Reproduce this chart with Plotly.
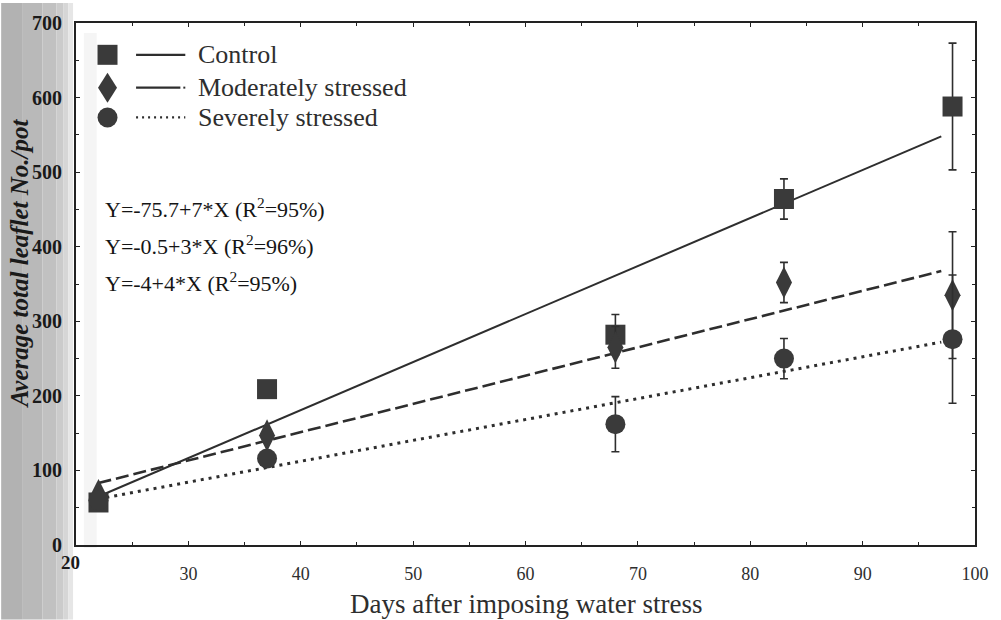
import numpy as np
import plotly.graph_objects as go

# ---- data -------------------------------------------------------------
days = [22, 37, 68, 83, 98]

control = [57, 209, 282, 464, 588]
control_err = [0, 0, 27, 27, 85]

moderate = [67, 147, 265, 352, 335]
moderate_err = [0, 0, 28, 27, 85]

severe = [60, 116, 162, 250, 276]
severe_err = [0, 0, 37, 27, 86]

series_names = ["Control", "Moderately stressed", "Severely stressed"]
equations = [
    "Y=-75.7+7*X (R<sup>2</sup>=95%)",
    "Y=-0.5+3*X (R<sup>2</sup>=96%)",
    "Y=-4+4*X (R<sup>2</sup>=95%)",
]
fit_span = [22, 97]

x_ticks = [30, 40, 50, 60, 70, 80, 90, 100]
y_ticks = [0, 100, 200, 300, 400, 500, 600, 700]

# ---- layout geometry (pixels) ----------------------------------------
W, H = 1001, 620
ML, MR, MT, MB = 76, 12, 20, 75
PW, PH = W - ML - MR, H - MT - MB


def px(x):
    return (x - ML) / PW


def py(y):
    return (H - MB - y) / PH


INK = "#2e2e2e"
MARK = "#3a3a3a"
SERIF = "Liberation Serif"

fig = go.Figure()

styles = [
    dict(symbol="square", size=20, dash="solid", width=2),
    dict(symbol="diamond-tall", size=23, dash="13px,5px", width=2.6),
    dict(symbol="circle", size=20, dash="3px,5px", width=3),
]
values = [control, moderate, severe]
errors = [control_err, moderate_err, severe_err]

# regression lines through each treatment
xs = np.array(days, dtype=float)
span = np.array(fit_span, dtype=float)
for name, vals, st in zip(series_names, values, styles):
    slope, icpt = np.polyfit(xs, np.array(vals, dtype=float), 1)
    fig.add_trace(go.Scatter(
        x=span, y=icpt + slope * span, mode="lines",
        line=dict(color=INK, width=st["width"], dash=st["dash"]),
        showlegend=False, hoverinfo="skip",
    ))

# treatment means with error bars
for name, vals, errs, st in zip(series_names, values, errors, styles):
    fig.add_trace(go.Scatter(
        x=days, y=vals, mode="markers", name=name,
        marker=dict(symbol=st["symbol"], size=st["size"], color=MARK,
                    line=dict(width=0)),
        error_y=dict(type="data", array=errs, visible=True,
                     color=INK, thickness=1.6, width=4),
        showlegend=False,
    ))

shapes = []
annotations = []

# scanned page edge on the left
for x0, x1, col in [(0, 22, "#b2b2b2"), (22, 42, "#b9b9b9"),
                    (42, 56, "#c1c1c1"), (56, 63, "#cbcbcb"),
                    (63, 68, "#d6d6d6"), (68, 73, "#e6e6e6")]:
    shapes.append(dict(type="rect", xref="paper", yref="paper",
                       x0=px(x0), x1=px(x1), y0=py(H), y1=py(0),
                       fillcolor=col, line=dict(width=0), layer="below"))
shapes.append(dict(type="rect", xref="paper", yref="paper",
                   x0=px(84), x1=px(97), y0=py(548), y1=py(30),
                   fillcolor="#eeeeee", opacity=0.6,
                   line=dict(width=0), layer="below"))

# legend block
leg_rows = [52, 85, 115]
mx = px(108)
shapes.append(dict(type="rect", xref="paper", yref="paper",
                   xsizemode="pixel", ysizemode="pixel",
                   xanchor=mx, yanchor=py(leg_rows[0]),
                   x0=-10, x1=10, y0=-10, y1=10,
                   fillcolor=MARK, line=dict(width=0)))
shapes.append(dict(type="path", xref="paper", yref="paper",
                   xsizemode="pixel", ysizemode="pixel",
                   xanchor=mx, yanchor=py(leg_rows[1]),
                   path="M 0,15 L 9.5,0 L 0,-15 L -9.5,0 Z",
                   fillcolor=MARK, line=dict(width=0)))
shapes.append(dict(type="circle", xref="paper", yref="paper",
                   xsizemode="pixel", ysizemode="pixel",
                   xanchor=mx, yanchor=py(leg_rows[2]),
                   x0=-10, x1=10, y0=-10, y1=10,
                   fillcolor=MARK, line=dict(width=0)))
# line samples
shapes.append(dict(type="line", xref="paper", yref="paper",
                   x0=px(137), x1=px(187), y0=py(leg_rows[0]), y1=py(leg_rows[0]),
                   line=dict(color=INK, width=2.2)))
shapes.append(dict(type="line", xref="paper", yref="paper",
                   x0=px(137), x1=px(182), y0=py(leg_rows[1]), y1=py(leg_rows[1]),
                   line=dict(color=INK, width=2.2)))
shapes.append(dict(type="line", xref="paper", yref="paper",
                   x0=px(185), x1=px(187), y0=py(leg_rows[1]), y1=py(leg_rows[1]),
                   line=dict(color=INK, width=2)))
shapes.append(dict(type="line", xref="paper", yref="paper",
                   x0=px(137), x1=px(187), y0=py(leg_rows[2]), y1=py(leg_rows[2]),
                   line=dict(color=INK, width=2.2, dash="2px,4px")))
for name, yy in zip(series_names, leg_rows):
    annotations.append(dict(xref="paper", yref="paper", x=px(198), y=py(yy),
                            text=name, showarrow=False, xanchor="left",
                            yanchor="middle",
                            font=dict(family=SERIF, size=26, color=INK)))

# regression equations
for eq, yy in zip(equations, [206, 243, 280]):
    annotations.append(dict(xref="paper", yref="paper", x=px(103), y=py(yy),
                            text=eq, showarrow=False, xanchor="left",
                            yanchor="middle",
                            font=dict(family=SERIF, size=22, color="#151515")))

# axis titles and corner label
annotations.append(dict(xref="paper", yref="paper", x=0.5, y=py(604),
                        text="Days after imposing water stress",
                        showarrow=False, xanchor="center", yanchor="middle",
                        font=dict(family=SERIF, size=27, color=INK)))
annotations.append(dict(xref="paper", yref="paper", x=px(19), y=py(262),
                        text="<b><i>Average total leaflet No./pot</i></b>",
                        textangle=-90, showarrow=False,
                        xanchor="center", yanchor="middle",
                        font=dict(family=SERIF, size=25, color="#1a1a1a")))
annotations.append(dict(xref="paper", yref="paper", x=px(70), y=py(563),
                        text="<b>20</b>", showarrow=False,
                        xanchor="center", yanchor="middle",
                        font=dict(family=SERIF, size=19, color="#1a1a1a")))

fig.update_layout(
    width=W, height=H,
    margin=dict(l=ML, r=MR, t=MT, b=MB),
    paper_bgcolor="white", plot_bgcolor="rgba(0,0,0,0)",
    shapes=shapes, annotations=annotations,
    showlegend=False,
)
fig.update_xaxes(
    range=[20, 100], tickvals=x_ticks, ticktext=[str(t) for t in x_ticks],
    showgrid=False, zeroline=False,
    showline=True, linecolor="#222222", linewidth=2, mirror="ticks",
    ticks="inside", ticklen=4, tickcolor="#222222",
    minor=dict(ticks="inside", dtick=5, ticklen=3, tickcolor="#222222"),
    tickfont=dict(family=SERIF, size=18, color=INK),
    ticklabelstandoff=11, ticklabeloverflow="allow",
)
fig.update_yaxes(
    range=[0, 700], tickvals=y_ticks,
    ticktext=["<b>%d</b>" % t for t in y_ticks],
    showgrid=False, zeroline=False,
    showline=True, linecolor="#222222", linewidth=2, mirror="ticks",
    ticks="inside", ticklen=4, tickcolor="#222222",
    minor=dict(ticks="inside", dtick=50, ticklen=3, tickcolor="#222222"),
    tickfont=dict(family=SERIF, size=20, color="#1a1a1a"),
    ticklabelstandoff=8,
)

fig.write_html("out.html")
